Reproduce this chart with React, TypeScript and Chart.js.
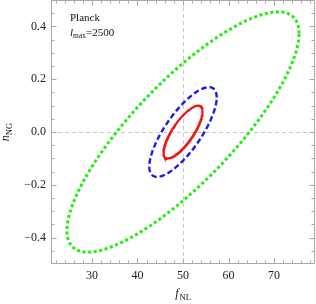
import React, { useEffect, useRef } from "react";
import { Chart, registerables } from "chart.js";

Chart.register(...registerables);

// Ellipse (Fisher contour) parameters
const contourNames = ["outer", "middle", "inner"];
const centerFNL = [50, 50, 50];
const centerNNG = [0, 0, 0];
const sigmaFNL = [25.5, 7.4, 4.3];
const sigmaNNG = [0.455, 0.17, 0.1];
const correlation = [0.82, 0.77, 0.78];
const contourColors = ["#22ee11", "#1a1aee", "#ee1111"];

const xTicks = [30, 40, 50, 60, 70];
const yTicks = [-0.4, -0.2, 0, 0.2, 0.4];
const xRange = [21, 79];
const yRange = [-0.5, 0.5];

const annotationTitle = "Planck";
const annotationValue = "=2500";

const SEGMENTS = 240;

function contourPoints(i: number) {
  const pts: { x: number; y: number }[] = [];
  const r = correlation[i];
  const s = Math.sqrt(1 - r * r);
  for (let k = 0; k <= SEGMENTS; k++) {
    const t = (2 * Math.PI * k) / SEGMENTS;
    pts.push({
      x: centerFNL[i] + sigmaFNL[i] * Math.cos(t),
      y: centerNNG[i] + sigmaNNG[i] * (r * Math.cos(t) + s * Math.sin(t)),
    });
  }
  return pts;
}

const SERIF = "'Liberation Serif', 'DejaVu Serif', serif";

const framePlugin = {
  id: "frame",
  beforeDatasetsDraw(chart: any) {
    const { ctx, chartArea: a, scales } = chart;
    const x0 = Math.round(scales.x.getPixelForValue(50)) + 0.5;
    const y0 = Math.round(scales.y.getPixelForValue(0)) + 0.5;
    ctx.save();
    ctx.strokeStyle = "#c8c8c8";
    ctx.lineWidth = 1;
    ctx.setLineDash([4, 3]);
    ctx.beginPath();
    ctx.moveTo(x0, a.top);
    ctx.lineTo(x0, a.bottom);
    ctx.moveTo(a.left, y0);
    ctx.lineTo(a.right, y0);
    ctx.stroke();
    ctx.restore();
  },
  afterDatasetsDraw(chart: any) {
    const { ctx, chartArea: a, scales } = chart;
    ctx.save();
    ctx.strokeStyle = "#a8a8a8";
    ctx.lineWidth = 1;
    ctx.setLineDash([]);
    const L = Math.round(a.left) + 0.5;
    const R = Math.round(a.right) - 0.5;
    const T = Math.round(a.top) + 0.5;
    const B = Math.round(a.bottom) - 0.5;
    ctx.beginPath();
    ctx.rect(L, T, R - L, B - T);
    ctx.stroke();
    ctx.beginPath();
    for (let v = 22; v <= 78; v += 2) {
      const px = Math.round(scales.x.getPixelForValue(v)) + 0.5;
      const len = v % 10 === 0 ? 5 : 3;
      ctx.moveTo(px, B);
      ctx.lineTo(px, B - len);
      ctx.moveTo(px, T);
      ctx.lineTo(px, T + len);
    }
    for (let k = -9; k <= 9; k++) {
      const v = k * 0.05;
      const py = Math.round(scales.y.getPixelForValue(v)) + 0.5;
      const len = k % 4 === 0 ? 5 : 3;
      ctx.moveTo(L, py);
      ctx.lineTo(L + len, py);
      ctx.moveTo(R, py);
      ctx.lineTo(R - len, py);
    }
    ctx.stroke();

    // annotation
    ctx.fillStyle = "#111";
    ctx.textBaseline = "alphabetic";
    ctx.textAlign = "left";
    ctx.font = `11px ${SERIF}`;
    ctx.fillText(annotationTitle, 70, 21);
    ctx.font = `italic 11px ${SERIF}`;
    ctx.fillText("l", 70, 36);
    let w = ctx.measureText("l").width;
    ctx.font = `7.5px ${SERIF}`;
    ctx.fillText("max", 70 + w, 38);
    w += ctx.measureText("max").width;
    ctx.font = `11px ${SERIF}`;
    ctx.fillText(annotationValue, 70 + w, 36);

    // x title
    ctx.font = `italic 12px ${SERIF}`;
    const fW = ctx.measureText("f").width;
    ctx.font = `8.5px ${SERIF}`;
    const nlW = ctx.measureText("NL").width;
    const cx = (a.left + a.right) / 2;
    const sx = cx - (fW + nlW + 1) / 2;
    ctx.font = `italic 12px ${SERIF}`;
    ctx.fillText("f", sx, 297);
    ctx.font = `8.5px ${SERIF}`;
    ctx.fillText("NL", sx + fW + 1, 300);

    // y title
    ctx.translate(9, (a.top + a.bottom) / 2);
    ctx.rotate(-Math.PI / 2);
    ctx.font = `italic 12px ${SERIF}`;
    const nW = ctx.measureText("n").width;
    ctx.font = `8.5px ${SERIF}`;
    const ngW = ctx.measureText("NG").width;
    const sy = -(nW + ngW) / 2;
    ctx.font = `italic 12px ${SERIF}`;
    ctx.fillText("n", sy, 0);
    ctx.font = `8.5px ${SERIF}`;
    ctx.fillText("NG", sy + nW, 2.5);
    ctx.restore();
  },
};

export default function App() {
  const ref = useRef<HTMLCanvasElement>(null);
  useEffect(() => {
    if (!ref.current) return;
    const dashes = [[3, 2.6], [5.5, 3], []];
    const widths = [3, 2.4, 2.2];
    const chart = new Chart(ref.current, {
      type: "scatter",
      data: {
        datasets: contourNames.map((name, i) => ({
          label: name,
          data: contourPoints(i),
          showLine: true,
          fill: false,
          borderColor: contourColors[i],
          borderWidth: widths[i],
          borderDash: dashes[i],
          pointRadius: 0,
          tension: 0,
        })),
      },
      options: {
        animation: false,
        responsive: false,
        maintainAspectRatio: false,
        layout: { padding: { top: 0, right: 1, left: 0, bottom: 0 } },
        plugins: { legend: { display: false }, tooltip: { enabled: false } },
        scales: {
          x: {
            type: "linear",
            min: xRange[0],
            max: xRange[1],
            grid: { display: false, drawTicks: false },
            border: { display: false },
            afterBuildTicks: (s: any) => {
              s.ticks = xTicks.map((v) => ({ value: v }));
            },
            afterFit: (s: any) => {
              s.height = 40;
              s.paddingLeft = 0;
              s.paddingRight = 0;
            },
            ticks: {
              padding: 5,
              color: "#222",
              font: { family: SERIF, size: 12 },
              callback: (v: any) => String(v),
            },
          },
          y: {
            type: "linear",
            min: yRange[0],
            max: yRange[1],
            grid: { display: false, drawTicks: false },
            border: { display: false },
            afterBuildTicks: (s: any) => {
              s.ticks = yTicks.map((v) => ({ value: v }));
            },
            afterFit: (s: any) => {
              s.width = 51;
              s.paddingTop = 0;
              s.paddingBottom = 0;
            },
            ticks: {
              padding: 5,
              color: "#222",
              font: { family: SERIF, size: 12 },
              callback: (v: any) => Number(v).toFixed(1).replace("-", "\u2212"),
            },
          },
        },
      },
      plugins: [framePlugin],
    });
    return () => chart.destroy();
  }, []);
  return (
    <div style={{ position: "absolute", left: 0, top: 0, width: 316, height: 304, background: "#fff" }}>
      <canvas ref={ref} width={316} height={304} style={{ display: "block" }} />
    </div>
  );
}
